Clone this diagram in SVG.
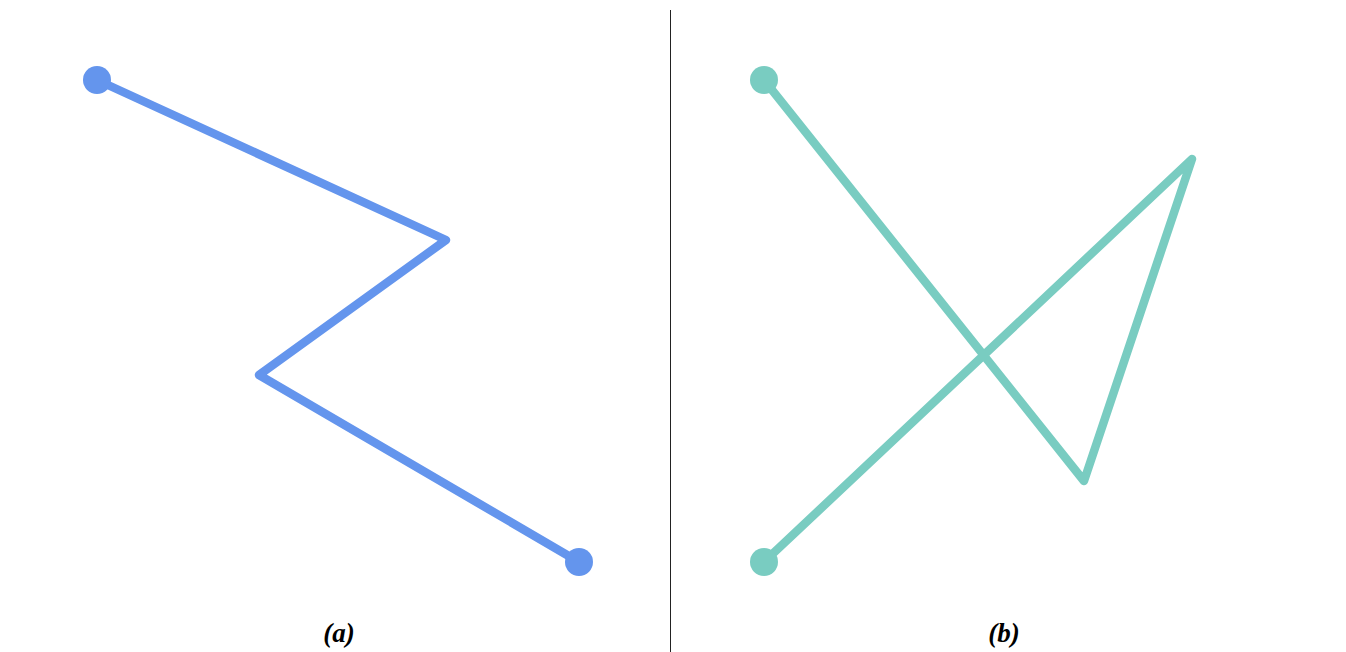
<svg xmlns="http://www.w3.org/2000/svg" width="1346" height="652" viewBox="0 0 1346 652">
<style>
.a{fill:none;stroke:#6495ed;stroke-width:8.5;stroke-linejoin:round;stroke-linecap:round}
.b{fill:none;stroke:#79ccc1;stroke-width:8.5;stroke-linejoin:round;stroke-linecap:round}
.lbl{font-family:"Liberation Serif",serif;font-size:27px;font-weight:bold;font-style:italic;fill:#000;text-anchor:middle}
</style>
<rect width="1346" height="652" fill="#fff"/>
<g id="connectors">
<polyline class="a" points="97,80 446,240 259,375 579,562"/>
<polyline class="b" points="764,80 1084,481 1192,159 764,562"/>
<line x1="670.5" y1="10" x2="670.5" y2="652" stroke="#222" stroke-width="1"/>
</g>
<g id="nodeA1"><circle cx="97" cy="80" r="14" fill="#6495ed"/></g>
<g id="nodeA2"><circle cx="579" cy="562" r="14" fill="#6495ed"/></g>
<g id="nodeB1"><circle cx="764" cy="80" r="14" fill="#79ccc1"/></g>
<g id="nodeB2"><circle cx="764" cy="562" r="14" fill="#79ccc1"/></g>
<g id="labels">
<text class="lbl" x="339" y="642">(a)</text>
<text class="lbl" x="1004" y="642">(b)</text>
</g>
</svg>
